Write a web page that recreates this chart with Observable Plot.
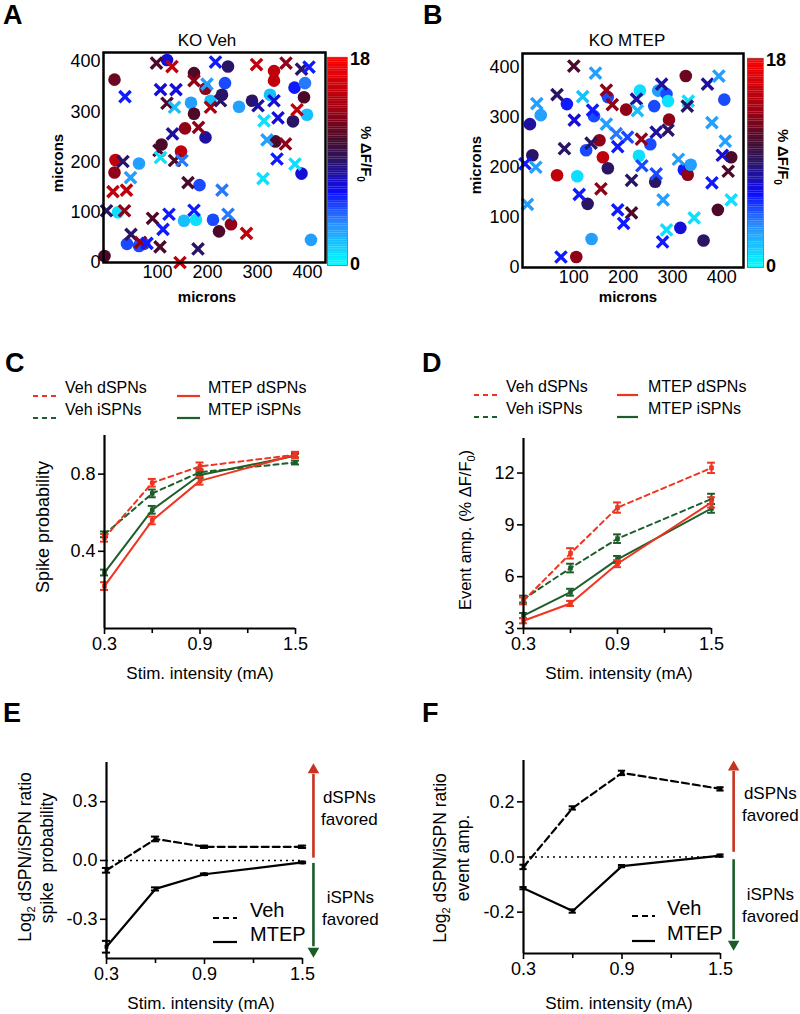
<!DOCTYPE html>
<html><head><meta charset="utf-8">
<script src="https://cdn.jsdelivr.net/npm/d3@7"></script>
<script src="https://cdn.jsdelivr.net/npm/@observablehq/plot@0.6"></script>
<style>
body{margin:0;background:#fff;}
#root{position:relative;width:800px;height:1014px;overflow:hidden;font-family:"Liberation Sans",Arial,sans-serif;color:#000;background:#fff;}
.t{position:absolute;white-space:nowrap;line-height:1;}
svg{overflow:visible}
</style>
</head><body><div id="root"></div>
<script>
// ---------- DATA ----------
// scatter panels: [x (microns), y (microns), %ΔF/F0]
const vehCircles = [[119,403,7],[14,364,12],[241,390,9],[173,377,11],[333,381,15],[333,362,15],[196,346,13],[235,357,5],[229,334,9],[167,318,3],[206,322,2],[263,310,3],[289,322,9],[325,334,2],[374,348,6],[395,357,4],[393,329,11],[371,281,9],[399,294,2],[173,296,11],[155,267,13],[196,249,8],[108,235,11],[147,221,15],[336,241,11],[16,204,15],[14,179,13],[63,197,3],[184,154,5],[388,177,7],[21,100,1],[153,83,2],[177,85,1],[211,85,5],[247,76,13],[223,62,11],[39,37,5],[63,33,5],[73,37,5],[407,45,3],[-6,13,11]];
const vehCrosses = [[98,397,11],[129,390,15],[216,399,6],[298,394,15],[357,397,13],[388,385,9],[403,389,6],[35,330,6],[106,344,7],[137,344,7],[173,362,13],[199,355,3],[119,317,11],[134,309,2],[206,309,14],[226,322,9],[301,312,8],[333,322,7],[379,304,15],[313,282,1],[341,288,7],[130,256,8],[182,269,13],[319,244,3],[356,236,13],[103,223,11],[106,209,1],[134,203,11],[149,203,4],[31,201,9],[339,206,6],[375,196,1],[46,169,3],[311,167,1],[161,159,11],[229,144,4],[11,141,15],[38,144,15],[-2,103,9],[34,103,13],[90,88,11],[123,96,6],[173,104,6],[241,96,4],[111,66,6],[47,56,9],[66,40,13],[79,38,6],[105,31,11],[181,27,9],[278,58,15],[145,0,15]];
const mtepCircles = [[11,286,8],[33,304,3],[86,326,6],[16,224,9],[125,234,5],[141,302,5],[169,340,5],[206,315,13],[234,353,1],[271,353,3],[288,346,5],[291,332,1],[263,322,5],[327,382,12],[293,295,13],[405,335,5],[152,254,13],[159,220,15],[169,198,9],[255,246,5],[232,223,1],[265,171,9],[66,184,15],[107,182,1],[128,127,9],[323,195,6],[331,185,13],[337,205,3],[419,220,11],[392,115,11],[316,79,7],[363,54,9],[136,57,3],[105,21,13]];
const mtepCrosses = [[100,402,11],[144,388,3],[25,327,3],[66,345,9],[118,341,2],[166,354,13],[178,325,13],[138,314,6],[101,294,7],[166,286,3],[186,267,4],[209,260,5],[227,336,8],[229,313,2],[278,366,8],[332,332,1],[330,322,9],[371,366,8],[394,382,3],[380,289,3],[407,252,3],[291,274,9],[267,270,8],[237,256,13],[135,248,9],[189,241,6],[81,237,9],[1,207,6],[23,200,3],[238,203,5],[267,187,5],[312,216,3],[217,174,9],[155,157,13],[111,146,6],[401,224,7],[413,192,11],[380,169,6],[6,126,3],[189,115,6],[217,109,11],[201,88,6],[281,135,3],[344,99,1],[288,75,1],[419,135,1],[280,51,6],[74,21,6]];
const scatterTicks = [0,100,200,300,400];
const colorStops = [0,3.6,6.3,9,10.8,13.5,18];
const colorRamp = ["#00ffff","#2a8cff","#0c0cff","#2a1466","#450a2c","#a00012","#ff0000"];

// line panels
const stim = [0.3,0.6,0.9,1.5];
const stimMajor = [0.3,0.9,1.5];
const stimMinor = [0.6,1.2];
const spikeVehD  = [0.47,0.755,0.84,0.90];
const spikeVehI  = [0.488,0.70,0.81,0.86];
const spikeMtepD = [0.22,0.56,0.765,0.90];
const spikeMtepI = [0.29,0.615,0.795,0.895];
const spikeErrVehD  = [0.02,0.02,0.02,0.015];
const spikeErrVehI  = [0.015,0.02,0.015,0.01];
const spikeErrMtepD = [0.02,0.02,0.02,0.015];
const spikeErrMtepI = [0.015,0.02,0.015,0.01];
const ampVehD  = [4.6,7.35,10.0,12.3];
const ampVehI  = [4.7,6.5,8.2,10.5];
const ampMtepD = [3.45,4.45,6.75,10.3];
const ampMtepI = [3.75,5.1,7.0,9.95];
const ampErrVehD  = [0.2,0.3,0.3,0.3];
const ampErrVehI  = [0.2,0.25,0.25,0.3];
const ampErrMtepD = [0.15,0.15,0.2,0.3];
const ampErrMtepI = [0.15,0.2,0.2,0.25];
const ratioSpikeVeh  = [-0.05,0.11,0.07,0.07];
const ratioSpikeMtep = [-0.44,-0.145,-0.07,-0.01];
const ratioSpikeErrVeh  = [0.012,0.012,0.006,0.006];
const ratioSpikeErrMtep = [0.03,0.008,0.004,0.004];
const ratioAmpVeh  = [-0.036,0.178,0.305,0.247];
const ratioAmpMtep = [-0.113,-0.196,-0.033,0.005];
const ratioAmpErrVeh  = [0.008,0.006,0.008,0.006];
const ratioAmpErrMtep = [0.004,0.006,0.004,0.004];

const RED = "#ef3420", GREEN = "#1d5e2a", ARED = "#c8321f", AGREEN = "#1a5c2a";
const FONT = "Liberation Sans, Arial, Helvetica, sans-serif";
const TICKFS = 18;

// ---------- helpers ----------
const root = document.getElementById("root");
function put(node, left, top){
  const d = document.createElement("div");
  d.style.position = "absolute"; d.style.left = left+"px"; d.style.top = top+"px";
  d.appendChild(node); root.appendChild(d);
}
function T(html, x, y, o = {}){
  const d = document.createElement("div");
  d.className = "t";
  d.innerHTML = html;
  d.style.left = x+"px"; d.style.top = y+"px";
  d.style.fontSize = (o.size||17)+"px";
  d.style.fontWeight = o.weight||"normal";
  if (o.align) d.style.textAlign = o.align;
  if (o.lh) d.style.lineHeight = o.lh;
  const tx = o.anchor === "start" ? "0" : "-50%";
  d.style.transform = `translate(${tx},-50%)`;
  if (o.rotate) d.style.transform = `translate(-50%,-50%) rotate(${o.rotate}deg)`;
  root.appendChild(d);
}
function swatch(x1, x2, y, color, dash){
  const w = x2 - x1;
  const d = document.createElement("div");
  d.style.position = "absolute"; d.style.left = x1+"px"; d.style.top = (y-3)+"px";
  d.innerHTML = `<svg width="${w}" height="6"><line x1="0" y1="3" x2="${w}" y2="3" stroke="${color}" stroke-width="2.2" ${dash?`stroke-dasharray="${dash}"`:""}/></svg>`;
  root.appendChild(d);
}
const baseStyle = {fontFamily: FONT, fontSize: TICKFS+"px", background: "transparent", color: "black", overflow: "visible"};

// ---------- scatter panels ----------
function scatter(circles, crosses, o){
  return Plot.plot({
    width: o.width, height: o.height,
    marginLeft: o.mL, marginRight: o.mR, marginTop: o.mT, marginBottom: o.mB,
    style: baseStyle,
    x: {domain: o.xdom, label: null},
    y: {domain: o.ydom, label: null},
    color: {type: "linear", domain: colorStops, range: colorRamp},
    marks: [
      Plot.dot(circles, {x: d => d[0], y: d => d[1], fill: d => d[2], r: 6.3, symbol: "circle"}),
      Plot.dot(crosses, {x: d => d[0], y: d => d[1], stroke: d => d[2], r: 5.2, symbol: "times", strokeWidth: 3.4}),
      Plot.frame({stroke: "black", strokeWidth: 2.5}),
      Plot.axisX({ticks: scatterTicks.slice(1), tickSize: 0, tickPadding: 3, fontSize: TICKFS}),
      Plot.axisY({ticks: scatterTicks, tickSize: 0, tickPadding: 3, fontSize: TICKFS})
    ]
  });
}
function colorbar(o){
  const strips = d3.range(0, 18, 0.2);
  return Plot.plot({
    width: o.width, height: o.height, margin: 0,
    style: baseStyle,
    x: {domain: [0,1], axis: null},
    y: {domain: [0,18], axis: null},
    color: {type: "linear", domain: colorStops, range: colorRamp},
    marks: [
      Plot.rect(strips, {x1: () => 0, x2: () => 1, y1: d => d, y2: d => d + 0.21, fill: d => d + 0.1}),
      Plot.frame({stroke: "#a05050", strokeWidth: 0.8})
    ]
  });
}

put(scatter(vehCircles, vehCrosses, {width: 340, height: 300, mL: 103, mR: 15, mT: 52, mB: 38, xdom: [-8, 436], ydom: [0, 418]}), 0, 0);
put(colorbar({width: 20, height: 208}), 327, 57);
put(scatter(mtepCircles, mtepCrosses, {width: 360, height: 300, mL: 122, mR: 17, mT: 53, mB: 33, xdom: [-4, 444], ydom: [0, 427]}), 400, 0);
put(colorbar({width: 16, height: 209}), 747, 58);

T("A", 3, 15, {size: 27, weight: "bold", anchor: "start"});
T("B", 423, 15, {size: 27, weight: "bold", anchor: "start"});
T("KO Veh", 207, 40, {size: 17});
T("KO MTEP", 627, 40, {size: 17});
T("microns", 207, 296, {size: 15, weight: "bold"});
T("microns", 628, 296, {size: 15, weight: "bold"});
T("microns", 57, 163, {size: 15, weight: "bold", rotate: -90});
T("microns", 475, 165, {size: 15, weight: "bold", rotate: -90});
T("18", 350, 59, {size: 18, weight: "bold", anchor: "start"});
T("0", 350, 264, {size: 18, weight: "bold", anchor: "start"});
T("18", 766, 60, {size: 18, weight: "bold", anchor: "start"});
T("0", 766, 266, {size: 18, weight: "bold", anchor: "start"});
T("% ΔF/F<sub style='font-size:10px'>0</sub>", 364, 154, {size: 15, weight: "bold", rotate: 90});
T("% ΔF/F<sub style='font-size:10px'>0</sub>", 781, 157, {size: 15, weight: "bold", rotate: 90});

// ---------- line panels ----------
function rows(ys, errs){ return stim.map((x,i) => ({x, y: ys[i], e: errs[i]})); }
function lineChart(o){
  const marks = [];
  if (o.zero) marks.push(Plot.ruleY([0], {stroke: "black", strokeWidth: 1.6, strokeDasharray: "2,4"}));
  for (const s of o.series){
    const data = rows(s.y, s.e);
    marks.push(
      Plot.line(data, {x: "x", y: "y", stroke: s.color, strokeWidth: s.width||2, strokeDasharray: s.dash||null}),
      Plot.ruleX(data, {x: "x", y1: d => d.y - d.e, y2: d => d.y + d.e, stroke: s.color, strokeWidth: 2}),
      Plot.ruleY(data, {y: d => d.y + d.e, x1: d => d.x - o.cap, x2: d => d.x + o.cap, stroke: s.color, strokeWidth: 2}),
      Plot.ruleY(data, {y: d => d.y - d.e, x1: d => d.x - o.cap, x2: d => d.x + o.cap, stroke: s.color, strokeWidth: 2}),
      Plot.dot(data, {x: "x", y: "y", symbol: "square", r: s.r||2.6, fill: s.color})
    );
  }
  if (o.extra) marks.push(...o.extra);
  marks.push(
    Plot.ruleX([0.3], {stroke: "black", strokeWidth: 2.2}),
    Plot.ruleY([o.ydom[0]], {stroke: "black", strokeWidth: 2.2}),
    Plot.axisX({ticks: stimMajor, tickFormat: d => d.toFixed(1), tickSize: 6, tickPadding: 3, strokeWidth: 1.6, fontSize: TICKFS}),
    Plot.axisX({ticks: stimMinor, tickFormat: () => "", tickSize: 5, strokeWidth: 1.6}),
    Plot.axisY({ticks: o.yticks, tickFormat: o.fmt, tickSize: 6, tickPadding: 3, strokeWidth: 1.6, fontSize: TICKFS})
  );
  return Plot.plot({
    width: o.width, height: o.height,
    marginLeft: o.mL, marginRight: o.mR, marginTop: o.mT, marginBottom: o.mB,
    style: baseStyle,
    x: {domain: [0.3, 1.5], label: null},
    y: {domain: o.ydom, label: null},
    marks
  });
}

// C
put(lineChart({
  width: 330, height: 260, mL: 104, mR: 35, mT: 15, mB: 52,
  ydom: [0, 1.0], yticks: [0.4, 0.8], fmt: d => d.toFixed(1), cap: 0.025,
  series: [
    {y: spikeVehI, e: spikeErrVehI, color: GREEN, dash: "5,4"},
    {y: spikeMtepI, e: spikeErrMtepI, color: GREEN},
    {y: spikeVehD, e: spikeErrVehD, color: RED, dash: "5,4"},
    {y: spikeMtepD, e: spikeErrMtepD, color: RED}
  ]
}), 0, 420);
// D
put(lineChart({
  width: 340, height: 260, mL: 123, mR: 29, mT: 18, mB: 52,
  ydom: [3, 14], yticks: [3, 6, 9, 12], fmt: d => String(d), cap: 0.025,
  series: [
    {y: ampVehI, e: ampErrVehI, color: GREEN, dash: "5,4"},
    {y: ampMtepI, e: ampErrMtepI, color: GREEN},
    {y: ampVehD, e: ampErrVehD, color: RED, dash: "5,4"},
    {y: ampMtepD, e: ampErrMtepD, color: RED}
  ]
}), 400, 420);

function arrows(x, redFrom, redTo, redHead, grFrom, grTo, grHead){
  return [
    Plot.ruleX([x], {y1: () => redFrom, y2: () => redTo, stroke: ARED, strokeWidth: 2.6}),
    Plot.dot([x], {x: d => d, y: () => redHead, symbol: "triangle2", r: 5.5, fill: ARED}),
    Plot.ruleX([x], {y1: () => grFrom, y2: () => grTo, stroke: AGREEN, strokeWidth: 2.6}),
    Plot.dot([x], {x: d => d, y: () => grHead, symbol: "triangle2", r: 5.5, fill: AGREEN, rotate: 180})
  ];
}
// E
put(lineChart({
  width: 340, height: 264, mL: 106, mR: 38, mT: 12, mB: 56,
  ydom: [-0.5, 0.5], yticks: [-0.3, 0, 0.3], fmt: d => d.toFixed(1), cap: 0.025, zero: true,
  series: [
    {y: ratioSpikeVeh, e: ratioSpikeErrVeh, color: "black", dash: "7,4", width: 2.2, r: 2.2},
    {y: ratioSpikeMtep, e: ratioSpikeErrMtep, color: "black", width: 2.2, r: 2.2}
  ],
  extra: arrows(1.567, 0.012, 0.44, 0.462, -0.015, -0.44, -0.462)
}), 0, 750);
// F
put(lineChart({
  width: 350, height: 264, mL: 123, mR: 30, mT: 10, mB: 61,
  ydom: [-0.35, 0.35], yticks: [-0.2, 0, 0.2], fmt: d => d.toFixed(1), cap: 0.022, zero: true,
  series: [
    {y: ratioAmpVeh, e: ratioAmpErrVeh, color: "black", dash: "7,4", width: 2.2, r: 2.2},
    {y: ratioAmpMtep, e: ratioAmpErrMtep, color: "black", width: 2.2, r: 2.2}
  ],
  extra: arrows(1.58, 0.017, 0.31, 0.326, -0.01, -0.30, -0.316)
}), 400, 750);

// panel letters
T("C", 5, 363, {size: 27, weight: "bold", anchor: "start"});
T("D", 422, 363, {size: 27, weight: "bold", anchor: "start"});
T("E", 3, 713, {size: 27, weight: "bold", anchor: "start"});
T("F", 422, 713, {size: 27, weight: "bold", anchor: "start"});

// C / D legends
swatch(33, 56, 388, RED, "5,4");   T("Veh dSPNs", 65, 388, {size: 16, anchor: "start"});
swatch(33, 56, 410, GREEN, "5,4"); T("Veh iSPNs", 65, 410, {size: 16, anchor: "start"});
swatch(177, 200, 388, RED);        T("MTEP dSPNs", 208, 388, {size: 16, anchor: "start"});
swatch(177, 200, 410, GREEN);      T("MTEP iSPNs", 208, 410, {size: 16, anchor: "start"});
swatch(474, 497, 387, RED, "5,4"); T("Veh dSPNs", 506, 387, {size: 16, anchor: "start"});
swatch(474, 497, 409, GREEN, "5,4"); T("Veh iSPNs", 506, 409, {size: 16, anchor: "start"});
swatch(617, 638, 387, RED);        T("MTEP dSPNs", 648, 387, {size: 16, anchor: "start"});
swatch(617, 638, 409, GREEN);      T("MTEP iSPNs", 648, 409, {size: 16, anchor: "start"});

// axis titles
T("Spike probability", 43, 527, {size: 18, rotate: -90});
T("Event amp. (% ΔF/F<sub style='font-size:11px'>0</sub>)", 467, 530, {size: 16.5, rotate: -90});
T("Stim. intensity (mA)", 200, 673, {size: 17});
T("Stim. intensity (mA)", 619, 673, {size: 17});
T("Stim. intensity (mA)", 201, 1003, {size: 17});
T("Stim. intensity (mA)", 619, 1003, {size: 17});
T("Log<sub style='font-size:11px'>2</sub> dSPN/iSPN ratio", 27, 857, {size: 17.5, rotate: -90});
T("spike&nbsp;&nbsp;probability", 48, 858, {size: 17.5, rotate: -90});
T("Log<sub style='font-size:11px'>2</sub> dSPN/iSPN ratio", 442, 858, {size: 17.5, rotate: -90});
T("event amp.", 464, 858, {size: 17.5, rotate: -90});

// E / F legends
swatch(213, 237, 910, "black", "6,4"); T("Veh", 250, 910, {size: 20, anchor: "start"});
swatch(213, 237, 934, "black");        T("MTEP", 250, 934, {size: 20, anchor: "start"});
swatch(632, 655, 908, "black", "6,4"); T("Veh", 667, 908, {size: 20, anchor: "start"});
swatch(632, 655, 933, "black");        T("MTEP", 667, 933, {size: 20, anchor: "start"});

// favored annotations
T("dSPNs<br>favored", 321, 809, {size: 17, anchor: "start", align: "center", lh: "1.3"});
T("iSPNs<br>favored", 322, 909, {size: 17, anchor: "start", align: "center", lh: "1.3"});
T("dSPNs<br>favored", 742, 805, {size: 17, anchor: "start", align: "center", lh: "1.3"});
T("iSPNs<br>favored", 742, 906, {size: 17, anchor: "start", align: "center", lh: "1.3"});
</script>
</body></html>
